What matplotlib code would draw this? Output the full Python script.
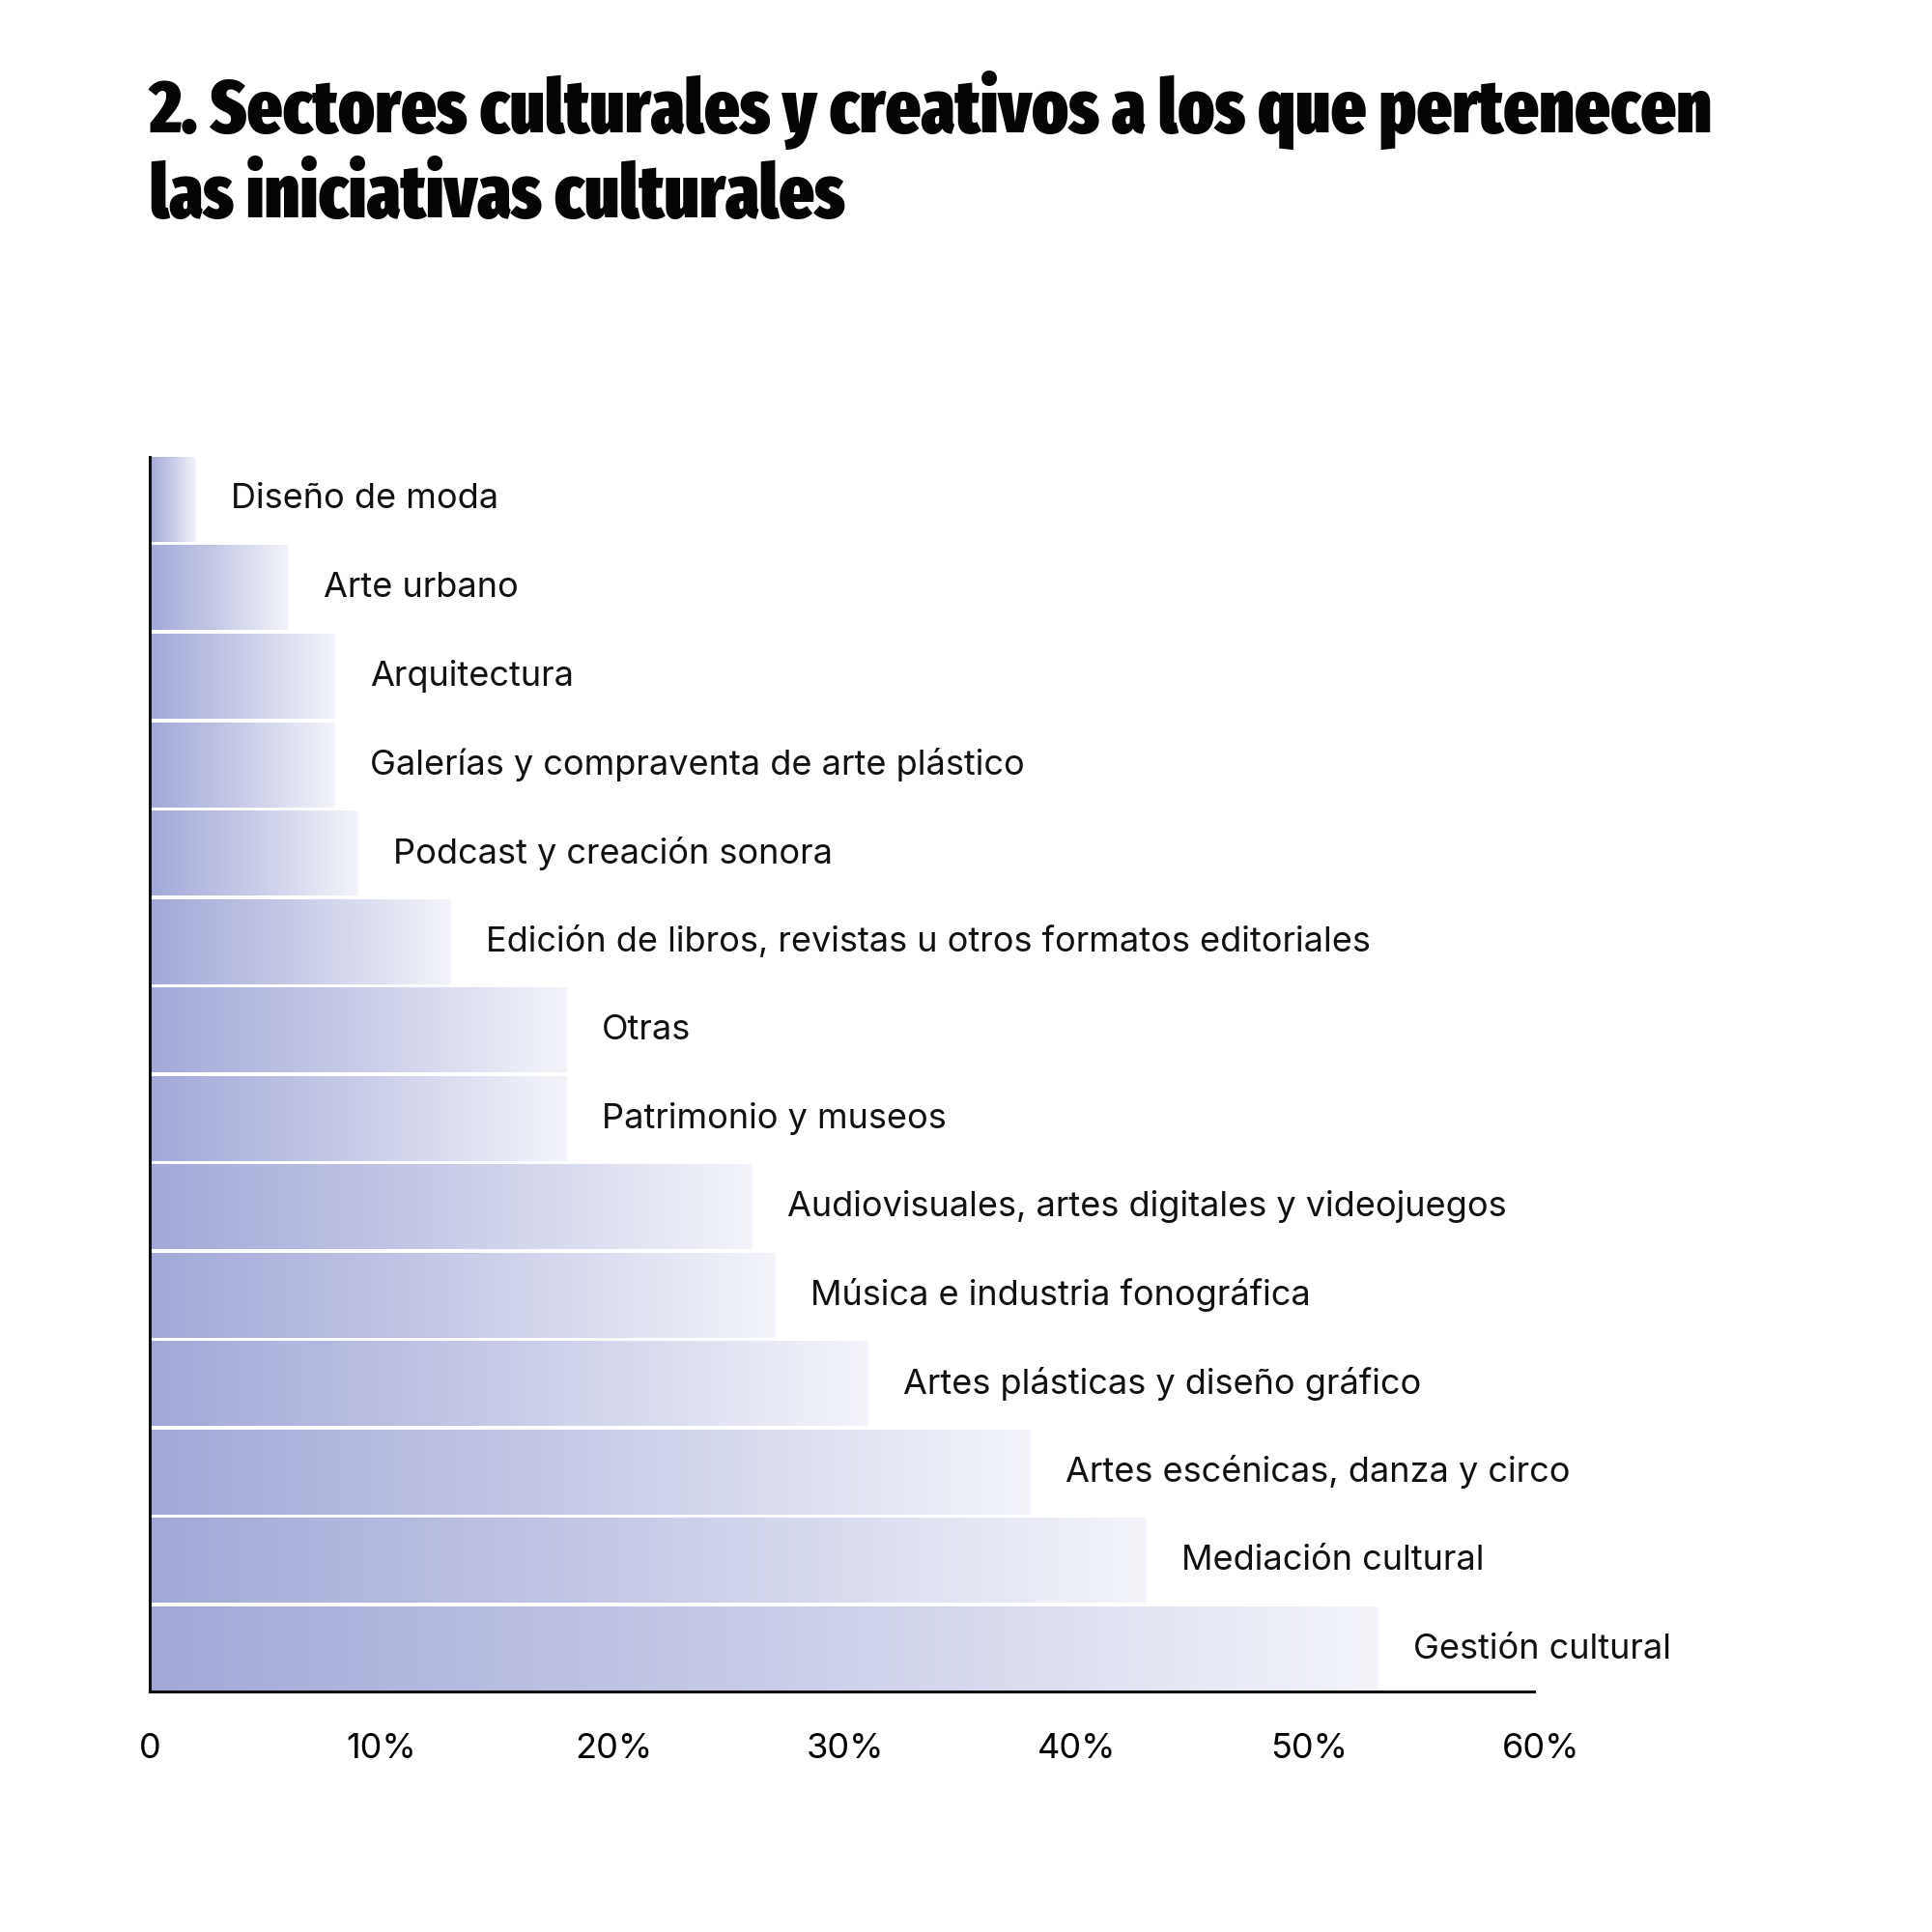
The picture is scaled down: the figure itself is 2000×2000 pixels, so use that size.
import numpy as np
import matplotlib.pyplot as plt
from matplotlib import font_manager as fm
from matplotlib.colors import LinearSegmentedColormap

# data, top to bottom as in the chart
sectors = [
    "Diseño de moda",
    "Arte urbano",
    "Arquitectura",
    "Galerías y compraventa de arte plástico",
    "Podcast y creación sonora",
    "Edición de libros, revistas u otros formatos editoriales",
    "Otras",
    "Patrimonio y museos",
    "Audiovisuales, artes digitales y videojuegos",
    "Música e industria fonográfica",
    "Artes plásticas y diseño gráfico",
    "Artes escénicas, danza y circo",
    "Mediación cultural",
    "Gestión cultural",
]
pct = [2, 6, 8, 8, 9, 13, 18, 18, 26, 27, 31, 38, 43, 53]
xticks = [0, 10, 20, 30, 40, 50, 60]
xtick_labels = ["0", "10%", "20%", "30%", "40%", "50%", "60%"]

title_lines = ["2. Sectores culturales y creativos a los que pertenecen",
               "las iniciativas culturales"]

grad = LinearSegmentedColormap.from_list("grad", ["#a2a9d8", "#c8cce8", "#f3f4fa"])


# the title uses a heavy condensed face; pick the closest one installed
def pick_title_font():
    stretch_rank = {"ultra-condensed": 4, "extra-condensed": 3, "condensed": 2,
                    "semi-condensed": 1}
    best, best_key = None, None
    for f in fm.fontManager.ttflist:
        low = (f.name + " " + f.fname).lower()
        st = stretch_rank.get(str(f.stretch), 0)
        if "narrow" in low or "condensed" in low:
            st = max(st, 2)
        if "extracondensed" in low or "extra condensed" in low:
            st = max(st, 3)
        w = f.weight if isinstance(f.weight, int) else fm.weight_dict.get(f.weight, 400)
        if "black" in low or "heavy" in low:
            w = max(w, 900)
        elif "bold" in low and "semibold" not in low:
            w = max(w, 700)
        if "italic" in low or "oblique" in low or str(f.style) != "normal":
            continue
        if st == 0 or w < 700:
            continue
        key = (st, w)
        if best_key is None or key > best_key:
            best, best_key = f, key
    if best is None:
        return fm.FontProperties(family="DejaVu Sans", weight="bold")
    return fm.FontProperties(fname=best.fname)


title_font = pick_title_font()
body = ["Inter", "DejaVu Sans"]

fig = plt.figure(figsize=(20, 20), dpi=100)
ax = fig.add_axes([0.0775, 0.1245, 0.72, 0.639])

n = len(sectors)
ypos = np.arange(n)[::-1]  # first sector at the top
h = 0.96

bars = ax.barh(ypos, pct, height=h, color="none", edgecolor="none")
ramp = np.linspace(0, 1, 256).reshape(1, -1)
for b, v, y, name in zip(bars, pct, ypos, sectors):
    ax.imshow(ramp, cmap=grad, aspect="auto", interpolation="bicubic",
              extent=(0, v, y - h / 2, y + h / 2), zorder=1)
    ax.text(v + 1.5, y, name, va="center", ha="left", fontsize=26,
            family=body, color="#111111")

ax.set_xlim(0, 60)
ax.set_ylim(-h / 2, n - 1 + h / 2)

for s in ["top", "right"]:
    ax.spines[s].set_visible(False)
for s in ["left", "bottom"]:
    ax.spines[s].set_linewidth(2.2)
    ax.spines[s].set_color("#111111")
    ax.spines[s].set_zorder(5)
ax.spines["bottom"].set_bounds(0, 59.7)

ax.set_yticks([])
ax.set_xticks(xticks)
ax.set_xticklabels(xtick_labels, family=body, fontsize=26)
ax.tick_params(axis="x", which="major", length=0, pad=31)
ax.set_xticks(xticks[1:-1], minor=True)
ax.tick_params(axis="x", which="minor", direction="in", length=19, width=1.5,
               color="#111111")
ax.set_axisbelow(False)

t1 = fig.text(0.0775, 1 - 137 / 2000, title_lines[0], fontproperties=title_font,
              fontsize=50, va="baseline", ha="left", color="#050505")
t2 = fig.text(0.0775, 1 - 225 / 2000, title_lines[1], fontproperties=title_font,
              fontsize=50, va="baseline", ha="left", color="#050505")

# scale the title so the first line spans the same width as in the original
renderer = fig.canvas.get_renderer()
w1 = t1.get_window_extent(renderer).width
size = 50 * 1616 / w1
t1.set_fontsize(size)
t2.set_fontsize(size)

fig.savefig("out.png", dpi=100, facecolor="white")
